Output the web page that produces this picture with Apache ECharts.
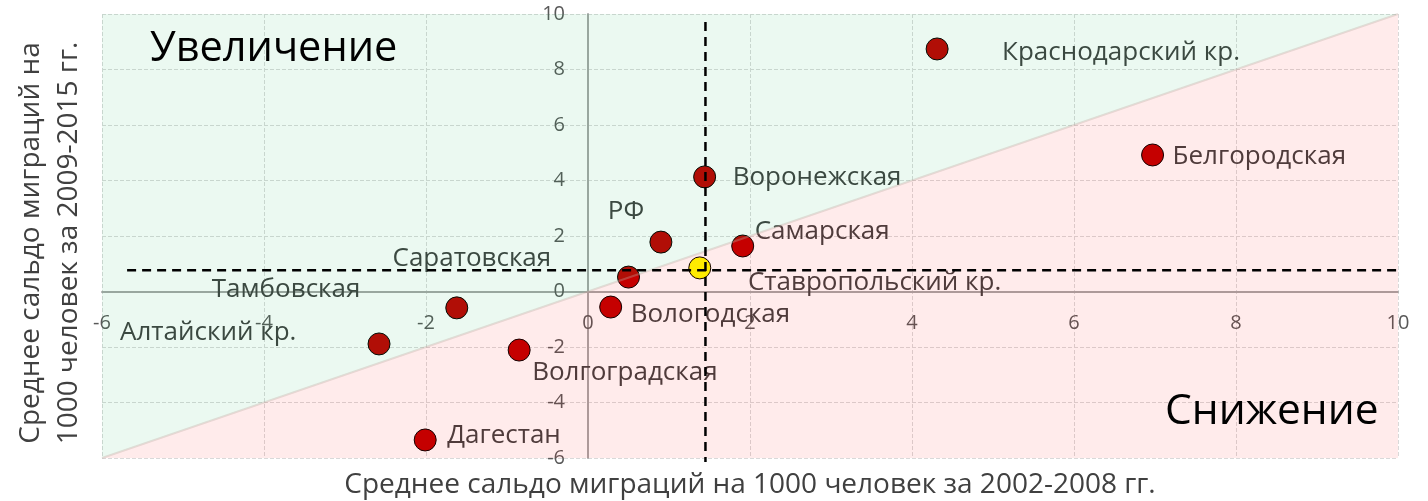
<!DOCTYPE html>
<html>
<head>
<meta charset="utf-8">
<script src="https://cdn.jsdelivr.net/npm/echarts@6/dist/echarts.min.js"></script>
<style>
  html, body { margin: 0; padding: 0; background: #fff; }
  #chart { width: 1428px; height: 501px; }
</style>
</head>
<body>
<div id="chart"></div>
<script>
// регионы и сальдо миграций (на 1000 человек)
var regions = ['Краснодарский кр.', 'Белгородская', 'Воронежская', 'Самарская', 'РФ',
  'Ставропольский кр.', 'Саратовская', 'Вологодская', 'Волгоградская', 'Тамбовская',
  'Алтайский кр.', 'Дагестан'];
var saldo2002 = [4.31, 6.97, 1.44, 1.91, 1.38, 0.90, 0.50, 0.28, -0.85, -1.62, -2.58, -2.01];
var saldo2009 = [8.74, 4.92, 4.13, 1.64, 0.85, 1.78, 0.52, -0.56, -2.11, -0.59, -1.89, -5.35];

// пунктир - средние по РФ
var rfLineX = 1.45;
var rfLineY = 0.77;
var vLineY = [9.71, -6.14];
var hLineX = [-5.69, 10.28];

// диагональ y = x
var diagonal = [-6, 10];

var axisMin = -6, axisMax = 10, axisStep = 2;

// сдвиг подписей относительно точки (px)
var labelShift = {
  'Краснодарский кр.': [65, 4],
  'Белгородская': [20, 2],
  'Воронежская': [28, 1],
  'Самарская': [12, -14],
  'РФ': [-92, -56],
  'Ставропольский кр.': [87, 40],
  'Саратовская': [-236, -18],
  'Вологодская': [20, 8],
  'Волгоградская': [13, 23],
  'Тамбовская': [-245, -18],
  'Алтайский кр.': [-259, -11],
  'Дагестан': [22, -4]
};

var FONT = '"Open Sans", sans-serif';

var points = [];
for (var i = 0; i < regions.length; i++) {
  var sh = labelShift[regions[i]];
  points.push({
    name: regions[i],
    value: [saldo2002[i], saldo2009[i]],
    itemStyle: { color: regions[i] == 'РФ' ? '#ffff00' : '#c00000' },
    label: { offset: sh }
  });
}

var chart = echarts.init(document.getElementById('chart'));
var option = {
  animation: false,
  grid: { left: 102, right: 30, top: 14, bottom: 43 },
  xAxis: {
    type: 'value', min: axisMin, max: axisMax, interval: axisStep,
    axisLine: { onZero: true, lineStyle: { color: '#a6a6a6', width: 2 } },
    axisTick: { show: false },
    axisLabel: { margin: 22, color: '#595959', fontSize: 20, fontFamily: FONT },
    splitLine: { show: true, lineStyle: { color: '#d9d9d9', type: [4, 2] } }
  },
  yAxis: {
    type: 'value', min: axisMin, max: axisMax, interval: axisStep,
    axisLine: { onZero: true, lineStyle: { color: '#a6a6a6', width: 2 } },
    axisTick: { show: false },
    axisLabel: { margin: 23, color: '#595959', fontSize: 20, fontFamily: FONT },
    splitLine: { show: true, lineStyle: { color: '#d9d9d9', type: [4, 2] } }
  },
  graphic: [
    { type: 'text', left: 150, top: 28, z: 100,
      style: { text: 'Увеличение', fill: '#000', font: '41.5px ' + FONT } },
    { type: 'text', left: 1165, top: 390, z: 100,
      style: { text: 'Снижение', fill: '#000', font: '42.5px ' + FONT } },
    { type: 'text', x: 50, y: 243, rotation: Math.PI / 2, z: 100,
      style: { text: 'Среднее сальдо миграций на\n1000 человек за 2009-2015 гг.',
        fill: '#404040', font: '28px ' + FONT, align: 'center', verticalAlign: 'middle', lineHeight: 38 } },
    { type: 'text', x: 750, y: 485, z: 100,
      style: { text: 'Среднее сальдо миграций на 1000 человек за 2002-2008 гг.',
        fill: '#404040', font: '28px ' + FONT, align: 'center', verticalAlign: 'middle' } }
  ],
  series: [
    {
      type: 'scatter', z: 2,
      symbolSize: 22,
      itemStyle: { borderColor: '#000', borderWidth: 1, opacity: 1 },
      label: {
        show: true, formatter: '{b}', position: 'inside', align: 'left', verticalAlign: 'middle',
        color: '#404040', fontSize: 26, fontFamily: FONT
      },
      data: points
    },
    {
      // снижение (ниже диагонали)
      type: 'line', z: 3, silent: true, symbol: 'none',
      data: [[diagonal[0], diagonal[0]], [diagonal[1], diagonal[1]]],
      lineStyle: { color: 'rgba(190,170,160,0.35)', width: 2 },
      areaStyle: { origin: 'start', color: 'rgba(255,0,0,0.11)' }
    },
    {
      // увеличение (выше диагонали)
      type: 'line', z: 3, silent: true, symbol: 'none',
      data: [[diagonal[0], diagonal[0]], [diagonal[1], diagonal[1]]],
      lineStyle: { width: 0 },
      areaStyle: { origin: 'end', color: 'rgba(0,176,80,0.11)' }
    },
    {
      type: 'line', z: 5, silent: true, symbol: 'none', clip: false,
      data: [[rfLineX, vLineY[0]], [rfLineX, vLineY[1]]],
      lineStyle: { color: '#000', width: 2.5, type: [9, 6] }
    },
    {
      type: 'line', z: 5, silent: true, symbol: 'none', clip: false,
      data: [[hLineX[0], rfLineY], [hLineX[1], rfLineY]],
      lineStyle: { color: '#000', width: 2.5, type: [9, 6] }
    }
  ]
};
chart.setOption(option);

// подписи осей ставим к нулевым линиям
var zero = chart.convertToPixel({ gridIndex: 0 }, [0, 0]);
var corner = chart.convertToPixel({ gridIndex: 0 }, [axisMin, axisMin]);
chart.setOption({
  xAxis: { axisLabel: { margin: zero[1] + 22 - corner[1] } },
  yAxis: { axisLabel: { margin: corner[0] - zero[0] + 23 } }
});
</script>
</body>
</html>
